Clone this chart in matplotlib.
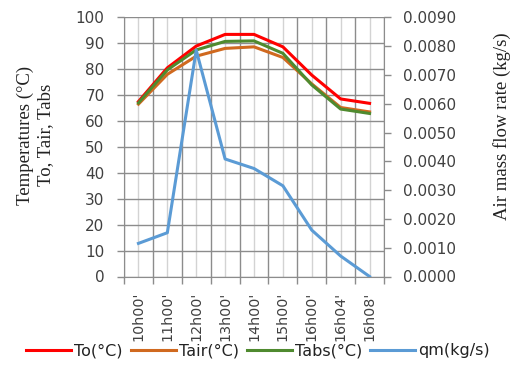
import numpy as np
import matplotlib.pyplot as plt
from matplotlib.ticker import FixedLocator, NullFormatter, FixedFormatter

times = ["10h00'", "11h00'", "12h00'", "13h00'", "14h00'",
         "15h00'", "16h00'", "16h04'", "16h08'"]
t_o = [67.5, 80.5, 88.9, 93.4, 93.4, 88.6, 77.7, 68.5, 66.8]
t_air = [66.5, 78.0, 85.0, 88.0, 88.6, 84.5, 74.3, 65.2, 63.5]
t_abs = [67.0, 79.7, 87.4, 90.7, 90.9, 86.1, 73.9, 64.6, 62.9]
qm = [0.00115, 0.00152, 0.00786, 0.00408, 0.00375, 0.00315, 0.00161, 0.00071, 0.0]

plt.rcParams['font.family'] = 'DejaVu Sans'
grid_dark = "#8c8c8c"
grid_light = "#d3d3d3"
txt = "#404040"

fig = plt.figure(figsize=(5.16, 3.88), dpi=100)
ax = fig.add_axes([124 / 516, 1 - 276.5 / 388, 260 / 516, 259.2 / 388])
x = np.arange(len(times))

lw = 2.2
l1, = ax.plot(x, t_o, color="#ff0000", lw=lw, label="To(°C)")
l2, = ax.plot(x, t_air, color="#d0691f", lw=lw, label="Tair(°C)")
l3, = ax.plot(x, t_abs, color="#4f8a2f", lw=lw, label="Tabs(°C)")

ax.set_xlim(-0.5, len(times) - 0.5)
ax.set_ylim(0, 100)
ax.set_yticks(np.arange(0, 101, 10))

# boundaries carry the dark grid and tick marks, centres carry the labels
ax.xaxis.set_major_locator(FixedLocator(np.arange(-0.5, len(times), 1.0)))
ax.xaxis.set_major_formatter(NullFormatter())
ax.xaxis.set_minor_locator(FixedLocator(x))
ax.xaxis.set_minor_formatter(FixedFormatter(times))
ax.tick_params(axis="x", which="minor", length=0, rotation=90, pad=11,
               labelsize=10.3, labelcolor=txt)
ax.tick_params(axis="x", which="major", length=5, color=grid_dark, width=1)
ax.tick_params(axis="y", length=5, color=grid_dark, width=1, pad=9,
               labelsize=11, labelcolor=txt)

ax.grid(True, which="major", color=grid_dark, lw=1.0)
ax.grid(True, which="minor", axis="x", color=grid_light, lw=1.0)
ax.set_axisbelow(True)
for s in ax.spines.values():
    s.set_color(grid_dark)
ax.spines["top"].set_visible(False)

ax2 = ax.twinx()
l4, = ax2.plot(x, qm, color="#5b9bd5", lw=lw, label="qm(kg/s)")
ax2.set_ylim(0, 0.009)
ax2.set_yticks(np.arange(0, 0.0091, 0.001))
ax2.set_yticklabels([f"{v:.4f}" for v in np.arange(0, 0.0091, 0.001)])
ax2.tick_params(axis="y", length=5, color=grid_dark, width=1, pad=9,
                labelsize=11, labelcolor=txt)
for s in ax2.spines.values():
    s.set_visible(False)

fig.text(35 / 516, 1 - 135 / 388, "Temperatures (°C)\nTo, Tair, Tabs",
         rotation=90, ha="center", va="center", multialignment="center",
         family="Liberation Serif", fontsize=13.5, color="#222222",
         linespacing=1.25)
fig.text(502 / 516, 1 - 126 / 388, "Air mass flow rate (kg/s)",
         rotation=90, ha="center", va="center",
         family="Liberation Serif", fontsize=13.5, color="#222222")

fig.legend(handles=[l1, l2, l3, l4], loc="center", ncol=4,
           bbox_to_anchor=(258 / 516, 1 - 351 / 388), frameon=False,
           fontsize=11.5, handlelength=2.8, handletextpad=0.2,
           columnspacing=0.5, labelcolor="#222222")

fig.savefig("out.png", dpi=100)
